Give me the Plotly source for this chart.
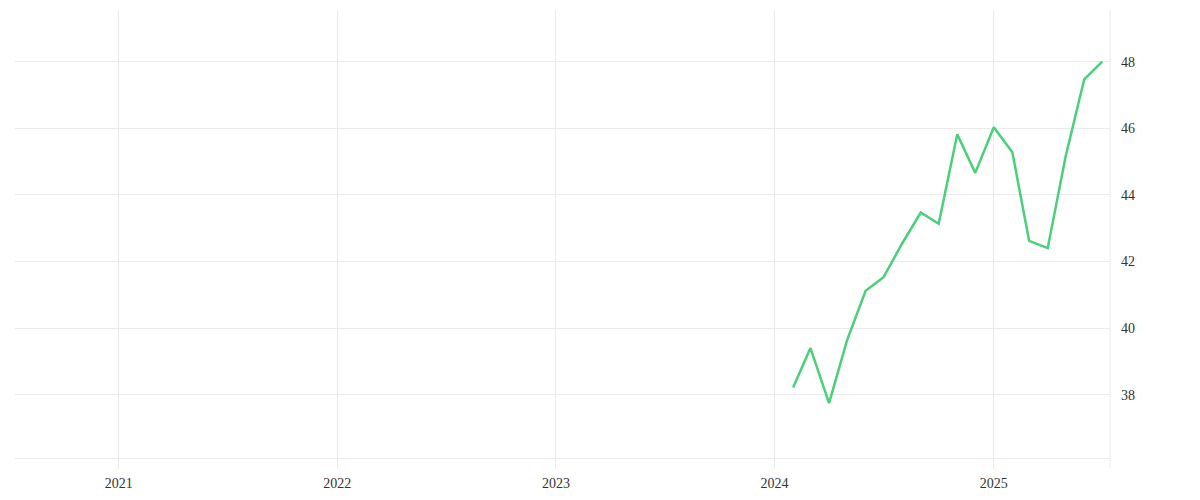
import plotly.graph_objects as go

dates = ["2024-02-01", "2024-03-01", "2024-04-01", "2024-05-01", "2024-06-01", "2024-07-01",
         "2024-08-01", "2024-09-01", "2024-10-01", "2024-11-01", "2024-12-01", "2025-01-01",
         "2025-02-01", "2025-03-01", "2025-04-01", "2025-05-01", "2025-06-01", "2025-07-01"]
values = [38.22, 39.40, 37.75, 39.63, 41.12, 41.53, 42.54, 43.47, 43.13, 45.82, 44.66, 46.03,
          45.28, 42.62, 42.40, 45.16, 47.47, 48.00]
x_ticks = ["2021-01-01", "2022-01-01", "2023-01-01", "2024-01-01", "2025-01-01"]
x_tick_labels = ["2021", "2022", "2023", "2024", "2025"]
y_ticks = [38, 40, 42, 44, 46, 48]

grid = "#ebebeb"
fig = go.Figure()
fig.add_trace(go.Scatter(x=dates, y=values, mode="lines",
                         line=dict(color="#4ad07a", width=2.5), showlegend=False))

fig.update_layout(
    width=1200, height=500,
    margin=dict(l=7, r=98, t=2, b=50),
    plot_bgcolor="white", paper_bgcolor="white",
    font=dict(family="Liberation Serif", size=14, color="#333333"),
    xaxis=dict(range=["2020-07-12", "2025-07-14"], tickvals=x_ticks, ticktext=x_tick_labels,
               showgrid=True, gridcolor=grid, gridwidth=1, zeroline=False,
               showline=True, linecolor=grid, linewidth=1,
               ticks="outside", ticklen=10, tickcolor=grid, tickwidth=1,
               ticklabelstandoff=2),
    yaxis=dict(range=[36.1, 49.55], side="right", tickvals=y_ticks,
               showgrid=True, gridcolor=grid, gridwidth=1, zeroline=False,
               showline=False, ticks="", ticklabelstandoff=10),
    shapes=[dict(type="line", xref="paper", yref="paper", x0=1, x1=1, y0=-10/448, y1=1,
                 line=dict(color=grid, width=1), layer="below")],
)

fig.write_html("out.html")
